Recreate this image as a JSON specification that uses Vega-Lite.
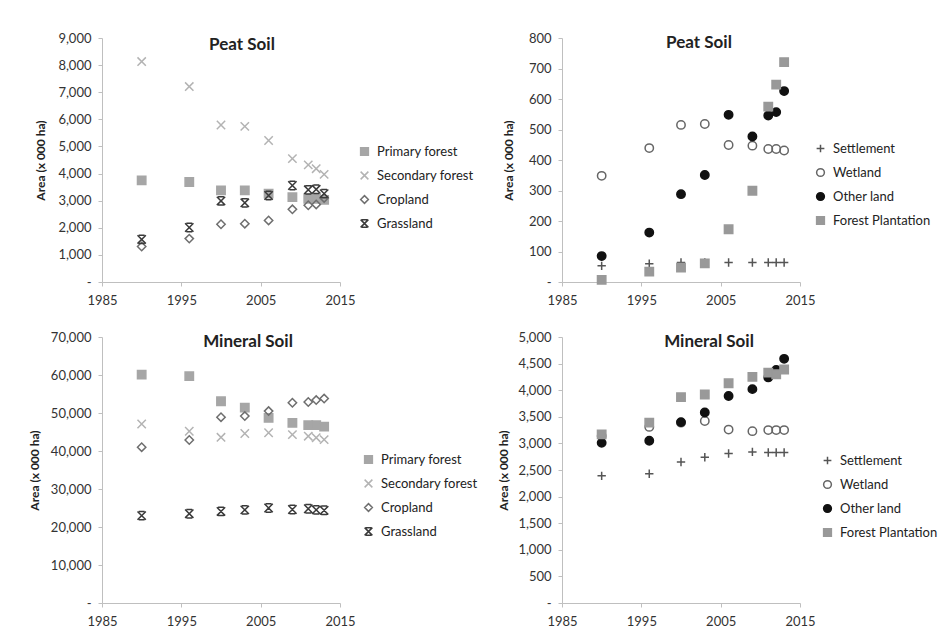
{
  "$schema": "https://vega.github.io/schema/vega-lite/v6.json",
  "background": "white",
  "padding": {"left": 28, "top": 32, "right": 0, "bottom": 0},
  "columns": 2,
  "bounds": "flush",
  "spacing": {"row": 55, "column": 222},
  "config": {
    "font": "Lato",
    "view": {"stroke": null},
    "axis": {
      "grid": false,
      "domainColor": "#bfbfbf",
      "tickColor": "#bfbfbf",
      "tickSize": 4,
      "labelFont": "Lato",
      "labelFontSize": 13,
      "labelColor": "#333333",
      "labelFlush": false,
      "titleFont": "Lato",
      "titleFontSize": 12,
      "titleFontWeight": "bold",
      "titleColor": "#222222"
    },
    "legend": {
      "labelFont": "Lato",
      "labelFontSize": 13,
      "labelColor": "#222222",
      "symbolSize": 60,
      "symbolStrokeWidth": 1.5,
      "rowPadding": 9,
      "padding": 0,
      "labelOffset": 6
    },
    "title": {"font": "Lato", "fontSize": 17, "fontWeight": "bold", "color": "#222222"}
  },
  "resolve": {
    "scale": {"shape": "independent", "fill": "independent", "stroke": "independent", "x": "independent", "y": "independent"},
    "legend": {"shape": "independent", "fill": "independent", "stroke": "independent"}
  },
  "datasets": {
    "peatA": [
      {"year": 1990, "type": "Primary forest", "area": 3750},
      {"year": 1996, "type": "Primary forest", "area": 3690},
      {"year": 2000, "type": "Primary forest", "area": 3380},
      {"year": 2003, "type": "Primary forest", "area": 3380},
      {"year": 2006, "type": "Primary forest", "area": 3260},
      {"year": 2009, "type": "Primary forest", "area": 3130},
      {"year": 2011, "type": "Primary forest", "area": 3070},
      {"year": 2012, "type": "Primary forest", "area": 3070},
      {"year": 2013, "type": "Primary forest", "area": 3030},
      {"year": 1990, "type": "Secondary forest", "area": 8130},
      {"year": 1996, "type": "Secondary forest", "area": 7210},
      {"year": 2000, "type": "Secondary forest", "area": 5790},
      {"year": 2003, "type": "Secondary forest", "area": 5740},
      {"year": 2006, "type": "Secondary forest", "area": 5220},
      {"year": 2009, "type": "Secondary forest", "area": 4550},
      {"year": 2011, "type": "Secondary forest", "area": 4320},
      {"year": 2012, "type": "Secondary forest", "area": 4180},
      {"year": 2013, "type": "Secondary forest", "area": 3970},
      {"year": 1990, "type": "Cropland", "area": 1310},
      {"year": 1996, "type": "Cropland", "area": 1600},
      {"year": 2000, "type": "Cropland", "area": 2130},
      {"year": 2003, "type": "Cropland", "area": 2150},
      {"year": 2006, "type": "Cropland", "area": 2270},
      {"year": 2009, "type": "Cropland", "area": 2680},
      {"year": 2011, "type": "Cropland", "area": 2830},
      {"year": 2012, "type": "Cropland", "area": 2860},
      {"year": 2013, "type": "Cropland", "area": 3100},
      {"year": 1990, "type": "Grassland", "area": 1570},
      {"year": 1996, "type": "Grassland", "area": 2010},
      {"year": 2000, "type": "Grassland", "area": 2990},
      {"year": 2003, "type": "Grassland", "area": 2920},
      {"year": 2006, "type": "Grassland", "area": 3190},
      {"year": 2009, "type": "Grassland", "area": 3560},
      {"year": 2011, "type": "Grassland", "area": 3400},
      {"year": 2012, "type": "Grassland", "area": 3420},
      {"year": 2013, "type": "Grassland", "area": 3260}
    ],
    "peatB": [
      {"year": 1990, "type": "Settlement", "area": 53},
      {"year": 1996, "type": "Settlement", "area": 60},
      {"year": 2000, "type": "Settlement", "area": 64},
      {"year": 2003, "type": "Settlement", "area": 64},
      {"year": 2006, "type": "Settlement", "area": 64},
      {"year": 2009, "type": "Settlement", "area": 64},
      {"year": 2011, "type": "Settlement", "area": 64},
      {"year": 2012, "type": "Settlement", "area": 64},
      {"year": 2013, "type": "Settlement", "area": 64},
      {"year": 1990, "type": "Wetland", "area": 348},
      {"year": 1996, "type": "Wetland", "area": 439},
      {"year": 2000, "type": "Wetland", "area": 515},
      {"year": 2003, "type": "Wetland", "area": 518},
      {"year": 2006, "type": "Wetland", "area": 449},
      {"year": 2009, "type": "Wetland", "area": 447},
      {"year": 2011, "type": "Wetland", "area": 436},
      {"year": 2012, "type": "Wetland", "area": 436},
      {"year": 2013, "type": "Wetland", "area": 431},
      {"year": 1990, "type": "Other land", "area": 85},
      {"year": 1996, "type": "Other land", "area": 162},
      {"year": 2000, "type": "Other land", "area": 288},
      {"year": 2003, "type": "Other land", "area": 351},
      {"year": 2006, "type": "Other land", "area": 548},
      {"year": 2009, "type": "Other land", "area": 477},
      {"year": 2011, "type": "Other land", "area": 546},
      {"year": 2012, "type": "Other land", "area": 557},
      {"year": 2013, "type": "Other land", "area": 626},
      {"year": 1990, "type": "Forest Plantation", "area": 7},
      {"year": 1996, "type": "Forest Plantation", "area": 34},
      {"year": 2000, "type": "Forest Plantation", "area": 47},
      {"year": 2003, "type": "Forest Plantation", "area": 61},
      {"year": 2006, "type": "Forest Plantation", "area": 173},
      {"year": 2009, "type": "Forest Plantation", "area": 299},
      {"year": 2011, "type": "Forest Plantation", "area": 575},
      {"year": 2012, "type": "Forest Plantation", "area": 647},
      {"year": 2013, "type": "Forest Plantation", "area": 721}
    ],
    "minA": [
      {"year": 1990, "type": "Primary forest", "area": 60100},
      {"year": 1996, "type": "Primary forest", "area": 59700},
      {"year": 2000, "type": "Primary forest", "area": 53100},
      {"year": 2003, "type": "Primary forest", "area": 51400},
      {"year": 2006, "type": "Primary forest", "area": 48700},
      {"year": 2009, "type": "Primary forest", "area": 47400},
      {"year": 2011, "type": "Primary forest", "area": 46800},
      {"year": 2012, "type": "Primary forest", "area": 46800},
      {"year": 2013, "type": "Primary forest", "area": 46400},
      {"year": 1990, "type": "Secondary forest", "area": 47100},
      {"year": 1996, "type": "Secondary forest", "area": 45200},
      {"year": 2000, "type": "Secondary forest", "area": 43600},
      {"year": 2003, "type": "Secondary forest", "area": 44600},
      {"year": 2006, "type": "Secondary forest", "area": 44800},
      {"year": 2009, "type": "Secondary forest", "area": 44300},
      {"year": 2011, "type": "Secondary forest", "area": 43900},
      {"year": 2012, "type": "Secondary forest", "area": 43500},
      {"year": 2013, "type": "Secondary forest", "area": 43000},
      {"year": 1990, "type": "Cropland", "area": 41000},
      {"year": 1996, "type": "Cropland", "area": 42900},
      {"year": 2000, "type": "Cropland", "area": 48900},
      {"year": 2003, "type": "Cropland", "area": 49200},
      {"year": 2006, "type": "Cropland", "area": 50500},
      {"year": 2009, "type": "Cropland", "area": 52700},
      {"year": 2011, "type": "Cropland", "area": 52900},
      {"year": 2012, "type": "Cropland", "area": 53400},
      {"year": 2013, "type": "Cropland", "area": 53800},
      {"year": 1990, "type": "Grassland", "area": 23000},
      {"year": 1996, "type": "Grassland", "area": 23500},
      {"year": 2000, "type": "Grassland", "area": 24100},
      {"year": 2003, "type": "Grassland", "area": 24500},
      {"year": 2006, "type": "Grassland", "area": 25000},
      {"year": 2009, "type": "Grassland", "area": 24600},
      {"year": 2011, "type": "Grassland", "area": 24800},
      {"year": 2012, "type": "Grassland", "area": 24500},
      {"year": 2013, "type": "Grassland", "area": 24400}
    ],
    "minB": [
      {"year": 1990, "type": "Settlement", "area": 2390},
      {"year": 1996, "type": "Settlement", "area": 2430},
      {"year": 2000, "type": "Settlement", "area": 2650},
      {"year": 2003, "type": "Settlement", "area": 2740},
      {"year": 2006, "type": "Settlement", "area": 2810},
      {"year": 2009, "type": "Settlement", "area": 2840},
      {"year": 2011, "type": "Settlement", "area": 2830},
      {"year": 2012, "type": "Settlement", "area": 2830},
      {"year": 2013, "type": "Settlement", "area": 2830},
      {"year": 1990, "type": "Wetland", "area": 3140},
      {"year": 1996, "type": "Wetland", "area": 3310},
      {"year": 2000, "type": "Wetland", "area": 3390},
      {"year": 2003, "type": "Wetland", "area": 3420},
      {"year": 2006, "type": "Wetland", "area": 3260},
      {"year": 2009, "type": "Wetland", "area": 3230},
      {"year": 2011, "type": "Wetland", "area": 3250},
      {"year": 2012, "type": "Wetland", "area": 3250},
      {"year": 2013, "type": "Wetland", "area": 3250},
      {"year": 1990, "type": "Other land", "area": 3010},
      {"year": 1996, "type": "Other land", "area": 3050},
      {"year": 2000, "type": "Other land", "area": 3400},
      {"year": 2003, "type": "Other land", "area": 3580},
      {"year": 2006, "type": "Other land", "area": 3890},
      {"year": 2009, "type": "Other land", "area": 4020},
      {"year": 2011, "type": "Other land", "area": 4240},
      {"year": 2012, "type": "Other land", "area": 4380},
      {"year": 2013, "type": "Other land", "area": 4590},
      {"year": 1990, "type": "Forest Plantation", "area": 3170},
      {"year": 1996, "type": "Forest Plantation", "area": 3390},
      {"year": 2000, "type": "Forest Plantation", "area": 3870},
      {"year": 2003, "type": "Forest Plantation", "area": 3920},
      {"year": 2006, "type": "Forest Plantation", "area": 4130},
      {"year": 2009, "type": "Forest Plantation", "area": 4250},
      {"year": 2011, "type": "Forest Plantation", "area": 4330},
      {"year": 2012, "type": "Forest Plantation", "area": 4300},
      {"year": 2013, "type": "Forest Plantation", "area": 4390}
    ]
  },
  "concat": [
    {
      "width": 238,
      "height": 244,
      "data": {"name": "peatA"},
      "title": {"text": "Peat Soil", "offset": -22, "dx": 21},
      "mark": {"type": "point", "size": 70, "strokeWidth": 1.5, "opacity": 1},
      "encoding": {
        "x": {"field": "year", "type": "quantitative", "scale": {"domain": [1985, 2015], "nice": false, "zero": false}, "axis": {"values": [1985, 1995, 2005, 2015], "format": "d", "title": null, "labelPadding": 8}},
        "y": {"field": "area", "type": "quantitative", "scale": {"domain": [0, 9000], "nice": false}, "axis": {"values": [0, 1000, 2000, 3000, 4000, 5000, 6000, 7000, 8000, 9000], "labelExpr": "datum.value == 0 ? '-\u00a0\u00a0' : format(datum.value, ',')", "title": "Area (x 000 ha)", "titlePadding": 10, "labelPadding": 7}},
        "shape": {"field": "type", "type": "nominal", "scale": {"domain": ["Primary forest", "Secondary forest", "Cropland", "Grassland"], "range": ["square", "M-1,-1L1,1M-1,1L1,-1", "diamond", "M-1,-1L1,1M-1,1L1,-1M-0.7,-1L0.7,-1M-0.7,1L0.7,1"]}, "legend": {"title": null, "orient": "none", "legendX": 256, "legendY": 107}},
        "fill": {"field": "type", "type": "nominal", "scale": {"domain": ["Primary forest", "Secondary forest", "Cropland", "Grassland"], "range": ["#a6a6a6", "transparent", "transparent", "transparent"]}, "legend": {"title": null, "orient": "none", "legendX": 256, "legendY": 107}},
        "stroke": {"field": "type", "type": "nominal", "scale": {"domain": ["Primary forest", "Secondary forest", "Cropland", "Grassland"], "range": ["#a6a6a6", "#b3b3b3", "#6e6e6e", "#3a3a3a"]}, "legend": {"title": null, "orient": "none", "legendX": 256, "legendY": 107}}
      }
    },
    {
      "width": 238,
      "height": 244,
      "data": {"name": "peatB"},
      "title": {"text": "Peat Soil", "offset": -20, "dx": 18},
      "mark": {"type": "point", "size": 70, "strokeWidth": 1.5, "opacity": 1},
      "encoding": {
        "x": {"field": "year", "type": "quantitative", "scale": {"domain": [1985, 2015], "nice": false, "zero": false}, "axis": {"values": [1985, 1995, 2005, 2015], "format": "d", "title": null, "labelPadding": 8}},
        "y": {"field": "area", "type": "quantitative", "scale": {"domain": [0, 800], "nice": false}, "axis": {"values": [0, 100, 200, 300, 400, 500, 600, 700, 800], "labelExpr": "datum.value == 0 ? '-\u00a0\u00a0' : format(datum.value, ',')", "title": "Area (x 000 ha)", "titlePadding": 13, "labelPadding": 7}},
        "shape": {"field": "type", "type": "nominal", "scale": {"domain": ["Settlement", "Wetland", "Other land", "Forest Plantation"], "range": ["M-1,0L1,0M0,-1L0,1", "circle", "circle", "square"]}, "legend": {"title": null, "orient": "none", "legendX": 252, "legendY": 104}},
        "fill": {"field": "type", "type": "nominal", "scale": {"domain": ["Settlement", "Wetland", "Other land", "Forest Plantation"], "range": ["transparent", "transparent", "#111111", "#999999"]}, "legend": {"title": null, "orient": "none", "legendX": 252, "legendY": 104}},
        "stroke": {"field": "type", "type": "nominal", "scale": {"domain": ["Settlement", "Wetland", "Other land", "Forest Plantation"], "range": ["#555555", "#666666", "#111111", "#999999"]}, "legend": {"title": null, "orient": "none", "legendX": 252, "legendY": 104}}
      }
    },
    {
      "width": 238,
      "height": 266,
      "data": {"name": "minA"},
      "title": {"text": "Mineral Soil", "offset": -20, "dx": 27},
      "mark": {"type": "point", "size": 70, "strokeWidth": 1.5, "opacity": 1},
      "encoding": {
        "x": {"field": "year", "type": "quantitative", "scale": {"domain": [1985, 2015], "nice": false, "zero": false}, "axis": {"values": [1985, 1995, 2005, 2015], "format": "d", "title": null, "labelPadding": 8}},
        "y": {"field": "area", "type": "quantitative", "scale": {"domain": [0, 70000], "nice": false}, "axis": {"values": [0, 10000, 20000, 30000, 40000, 50000, 60000, 70000], "labelExpr": "datum.value == 0 ? '-\u00a0\u00a0' : format(datum.value, ',')", "title": "Area (x 000 ha)", "titlePadding": 9, "labelPadding": 7}},
        "shape": {"field": "type", "type": "nominal", "scale": {"domain": ["Primary forest", "Secondary forest", "Cropland", "Grassland"], "range": ["square", "M-1,-1L1,1M-1,1L1,-1", "diamond", "M-1,-1L1,1M-1,1L1,-1M-0.7,-1L0.7,-1M-0.7,1L0.7,1"]}, "legend": {"title": null, "orient": "none", "legendX": 260, "legendY": 116}},
        "fill": {"field": "type", "type": "nominal", "scale": {"domain": ["Primary forest", "Secondary forest", "Cropland", "Grassland"], "range": ["#a6a6a6", "transparent", "transparent", "transparent"]}, "legend": {"title": null, "orient": "none", "legendX": 260, "legendY": 116}},
        "stroke": {"field": "type", "type": "nominal", "scale": {"domain": ["Primary forest", "Secondary forest", "Cropland", "Grassland"], "range": ["#a6a6a6", "#b3b3b3", "#6e6e6e", "#3a3a3a"]}, "legend": {"title": null, "orient": "none", "legendX": 260, "legendY": 116}}
      }
    },
    {
      "width": 238,
      "height": 266,
      "data": {"name": "minB"},
      "title": {"text": "Mineral Soil", "offset": -20, "dx": 28},
      "mark": {"type": "point", "size": 70, "strokeWidth": 1.5, "opacity": 1},
      "encoding": {
        "x": {"field": "year", "type": "quantitative", "scale": {"domain": [1985, 2015], "nice": false, "zero": false}, "axis": {"values": [1985, 1995, 2005, 2015], "format": "d", "title": null, "labelPadding": 8}},
        "y": {"field": "area", "type": "quantitative", "scale": {"domain": [0, 5000], "nice": false}, "axis": {"values": [0, 500, 1000, 1500, 2000, 2500, 3000, 3500, 4000, 4500, 5000], "labelExpr": "datum.value == 0 ? '-\u00a0\u00a0' : format(datum.value, ',')", "title": "Area (x 000 ha)", "titlePadding": 7, "labelPadding": 7}},
        "shape": {"field": "type", "type": "nominal", "scale": {"domain": ["Settlement", "Wetland", "Other land", "Forest Plantation"], "range": ["M-1,0L1,0M0,-1L0,1", "circle", "circle", "square"]}, "legend": {"title": null, "orient": "none", "legendX": 259, "legendY": 117}},
        "fill": {"field": "type", "type": "nominal", "scale": {"domain": ["Settlement", "Wetland", "Other land", "Forest Plantation"], "range": ["transparent", "transparent", "#111111", "#999999"]}, "legend": {"title": null, "orient": "none", "legendX": 259, "legendY": 117}},
        "stroke": {"field": "type", "type": "nominal", "scale": {"domain": ["Settlement", "Wetland", "Other land", "Forest Plantation"], "range": ["#555555", "#666666", "#111111", "#999999"]}, "legend": {"title": null, "orient": "none", "legendX": 259, "legendY": 117}}
      }
    }
  ]
}
